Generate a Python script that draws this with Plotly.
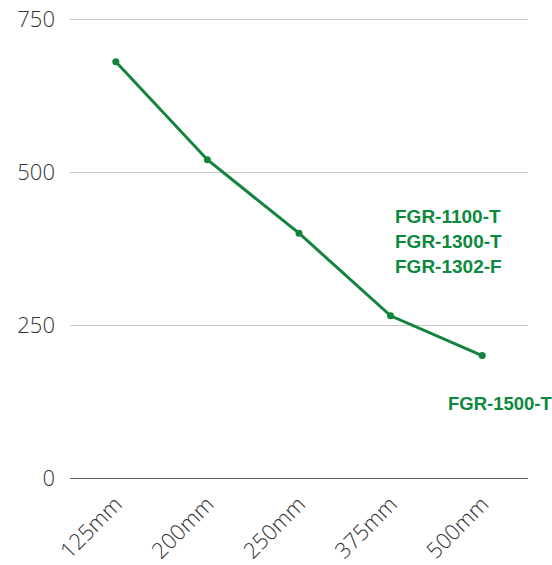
import plotly.graph_objects as go

sizes = ['125mm', '200mm', '250mm', '375mm', '500mm']
values = [680, 520, 400, 265, 200]

group_labels = ['FGR-1100-T', 'FGR-1300-T', 'FGR-1302-F']
group_y = [428, 387, 346]
single_label = 'FGR-1500-T'
single_y = 122

green = '#13843c'
text_green = '#0b8a3e'

fig = go.Figure()
fig.add_trace(go.Scatter(x=sizes, y=values, mode='lines+markers',
                         line=dict(color=green, width=3),
                         marker=dict(color=green, size=7),
                         showlegend=False, hoverinfo='skip'))

for lab, yv in zip(group_labels, group_y):
    fig.add_annotation(text=lab, xref='paper', x=0.706, xanchor='left',
                       y=yv, yref='y', showarrow=False,
                       font=dict(family='Liberation Sans, Arial', size=19,
                                 color=text_green, weight='bold'))
fig.add_annotation(text=single_label, xref='paper', x=0.821, xanchor='left',
                   y=single_y, yref='y', showarrow=False,
                   font=dict(family='Liberation Sans, Arial', size=18.5,
                             color=text_green, weight='bold'))

fig.update_layout(
    width=552, height=565,
    margin=dict(l=70, r=24, t=16, b=87),
    plot_bgcolor='white', paper_bgcolor='white',
    font=dict(family='Open Sans', size=22, color='#333'),
)
fig.update_xaxes(tickangle=-45, showgrid=False, showline=False,
                 automargin=False, range=[-0.5, 4.5],
                 ticklabelstandoff=8,
                 tickfont=dict(size=22, color='#333', weight=300))
# top a bit above 750 so its grid line is kept
fig.update_yaxes(range=[0, 754.9], tickvals=[0, 250, 500, 750],
                 gridcolor='#c8c8c8', gridwidth=1, automargin=False,
                 zeroline=True, zerolinecolor='#666', zerolinewidth=1,
                 ticklabelstandoff=14,
                 tickfont=dict(size=22, color='#333', weight=300))

# drop the default 8px body margin of the page
fig.write_html('out.html', config={'displayModeBar': False},
               post_script="document.body.style.margin='0';")
